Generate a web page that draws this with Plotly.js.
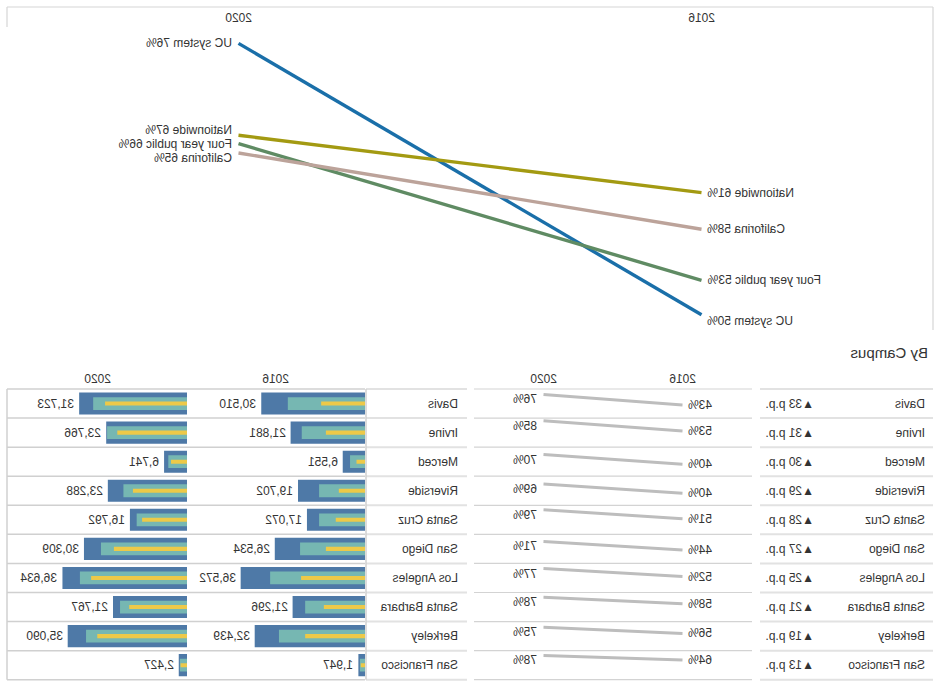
<!DOCTYPE html>
<html><head><meta charset="utf-8">
<script src="https://cdn.plot.ly/plotly-3.0.1.min.js"></script>
<style>
html,body{margin:0;padding:0;background:#fff;}
#chart{width:942px;height:688px;transform:scaleX(-1);transform-origin:center;}
</style></head>
<body><div id="chart"></div>
<script>
// ---- Overall slope chart data ----
const years = ['2016', '2020'];
const seriesNames = ['UC system', 'Nationwide', 'Four year public', 'Califorina'];
const rate2016 = [49.7, 61.4, 53.0, 57.9];
const rate2020 = [75.7, 66.9, 66.1, 65.2];

// ---- By campus data ----
const campuses = ['Davis', 'Irvine', 'Merced', 'Riverside', 'Santa Cruz', 'San Diego', 'Los Angeles', 'Santa Barbara', 'Berkeley', 'San Francisco'];
const campusRate2016 = [43, 53, 40, 40, 51, 44, 52, 58, 56, 64];
const campusRate2020 = [76, 85, 70, 69, 79, 71, 77, 78, 75, 78];
const changeLabels = ['▲33 p.p.', '▲31 p.p.', '▲30 p.p.', '▲29 p.p.', '▲28 p.p.', '▲27 p.p.', '▲25 p.p.', '▲21 p.p.', '▲19 p.p.', '▲13 p.p.'];
const total2016 = [30510, 21881, 6551, 19702, 17072, 26534, 36572, 21296, 32439, 1947];
const total2020 = [31723, 23766, 6741, 23288, 16792, 30309, 36634, 21767, 35090, 2427];
const mid2016 = [22700, 18600, 4400, 13500, 13500, 19100, 27900, 17600, 25300, 1500];
const mid2020 = [27600, 23500, 5500, 18700, 14800, 25300, 31500, 19700, 29700, 2100];
const inner2016 = [12900, 11500, 2500, 7700, 8600, 11500, 18800, 12100, 17600, 1250];
const inner2020 = [24100, 20500, 4700, 15900, 13200, 21500, 28200, 17000, 26400, 1900];

// ---- styles ----
const W = 942, H = 688;
const FONT = 'Liberation Sans, Arial, sans-serif';
const TXT = '#333333';
const lineColors = {'UC system': '#1a6fa9', 'Nationwide': '#a39a12', 'Four year public': '#5f8b63', 'Califorina': '#bca39a'};
const shift2016 = {'UC system': -6, 'Nationwide': 0, 'Four year public': 0, 'Califorina': 0};
const shift2020 = {'UC system': 0, 'Nationwide': 5, 'Four year public': 0, 'Califorina': -5};
const fx = (a, b) => [a / W, b / W];
const fy = (top, bottom) => [1 - bottom / H, 1 - top / H];
const px = v => v / W, py = v => 1 - v / H;
const yi = yr => years.indexOf(yr);
function ax(domain, range, extra) {
  return Object.assign({domain: domain, range: range, visible: false, fixedrange: true, showgrid: false, zeroline: false}, extra || {});
}

const layout = {
  width: W, height: H, margin: {l: 0, r: 0, t: 0, b: 0},
  paper_bgcolor: '#ffffff', plot_bgcolor: 'rgba(0,0,0,0)', showlegend: false,
  font: {family: FONT, size: 12, color: TXT},
  barmode: 'overlay',
  annotations: [], shapes: []
};
const data = [];
const A = o => layout.annotations.push(Object.assign({showarrow: false, font: {family: FONT, size: 12, color: TXT}}, o));
const L = (x0, y0, x1, y1, color, w) => layout.shapes.push({type: 'line', xref: 'paper', yref: 'paper', x0: px(x0), y0: py(y0), x1: px(x1), y1: py(y1), line: {color: color, width: w}});

// ---- top slope chart ----
layout.xaxis = ax(fx(9, 935), [-0.5, 1.5], {type: 'category', categoryarray: years});
layout.yaxis = ax(fy(28, 330), [48.245, 77.172]);
seriesNames.forEach((n, i) => {
  data.push({type: 'scatter', mode: 'lines', x: years, y: [rate2016[i], rate2020[i]], xaxis: 'x', yaxis: 'y',
    line: {color: lineColors[n], width: 3.4}, hoverinfo: 'skip'});
  A({x: yi('2016'), y: rate2016[i], xref: 'x', yref: 'y', xanchor: 'right', yanchor: 'middle', xshift: -4, yshift: shift2016[n], text: n + ' ' + Math.round(rate2016[i]) + '%'});
  A({x: yi('2020'), y: rate2020[i], xref: 'x', yref: 'y', xanchor: 'left', yanchor: 'middle', xshift: 4, yshift: shift2020[n], text: n + ' ' + Math.round(rate2020[i]) + '%'});
});
years.forEach(yr => A({x: yi(yr), xref: 'x', y: py(18), yref: 'paper', yanchor: 'middle', text: yr}));
L(9, 7, 935, 7, '#d6d6d6', 1.2);
L(9, 7, 9, 330, '#d6d6d6', 1.2);
L(935, 7, 935, 27, '#d6d6d6', 1.2);

// ---- By Campus ----
A({x: px(12), xref: 'paper', y: py(352), yref: 'paper', xanchor: 'left', yanchor: 'middle', text: 'By Campus', font: {family: FONT, size: 15, color: TXT}});

const ROW0 = 389, RH = 29.07;
campuses.forEach((c, r) => {
  const k = r + 2;
  const top = ROW0 + RH * r;
  layout['xaxis' + k] = ax(fx(190, 468), [-0.5, 1.5], {type: 'category', categoryarray: years});
  layout['yaxis' + k] = ax(fy(top, top + RH), [2.5, 93]);
  data.push({type: 'scatter', mode: 'lines', x: years, y: [campusRate2016[r], campusRate2020[r]], xaxis: 'x' + k, yaxis: 'y' + k,
    line: {color: '#bdbdbd', width: 3}, hoverinfo: 'skip'});
  A({x: yi('2016'), y: campusRate2016[r], xref: 'x' + k, yref: 'y' + k, xanchor: 'right', yanchor: 'middle', xshift: -4, text: campusRate2016[r] + '%'});
  A({x: yi('2020'), y: campusRate2020[r], xref: 'x' + k, yref: 'y' + k, xanchor: 'left', yanchor: 'middle', xshift: 4, yshift: -5, text: campusRate2020[r] + '%'});
});
years.forEach(yr => A({x: yi(yr), xref: 'x2', y: py(379), yref: 'paper', yanchor: 'middle', text: yr}));

// bullet columns
const catAxis = ax(fy(ROW0, ROW0 + RH * 10), [9.5, -0.5], {type: 'category', categoryarray: campuses});
layout.xaxis12 = ax(fx(577, 755), [0, 52350]);
layout.yaxis12 = Object.assign({}, catAxis);
layout.xaxis13 = ax(fx(755, 934), [0, 52650]);
layout.yaxis13 = Object.assign({}, catAxis);
[[total2016, mid2016, inner2016, '12'], [total2020, mid2020, inner2020, '13']].forEach(([tot, mid, inn, k]) => {
  data.push({type: 'bar', orientation: 'h', x: tot, y: campuses, xaxis: 'x' + k, yaxis: 'y' + k, width: 0.76, marker: {color: '#4e79a7'}, hoverinfo: 'skip'});
  data.push({type: 'bar', orientation: 'h', x: mid, y: campuses, xaxis: 'x' + k, yaxis: 'y' + k, width: 0.44, marker: {color: '#76b7b2'}, hoverinfo: 'skip'});
  data.push({type: 'bar', orientation: 'h', x: inn, y: campuses, xaxis: 'x' + k, yaxis: 'y' + k, width: 0.14, marker: {color: '#edc948'}, hoverinfo: 'skip'});
  campuses.forEach((c, r) => A({x: tot[r], y: c, xref: 'x' + k, yref: 'y' + k, xanchor: 'left', yanchor: 'middle', xshift: 3, text: tot[r].toLocaleString('en-US')}));
});
A({x: 0.5, xref: 'x12 domain', y: py(379), yref: 'paper', yanchor: 'middle', text: years[0]});
A({x: 0.5, xref: 'x13 domain', y: py(379), yref: 'paper', yanchor: 'middle', text: years[1]});

// campus name columns & change labels
campuses.forEach((c, r) => {
  A({x: px(15), xref: 'paper', y: c, yref: 'y12', xanchor: 'left', yanchor: 'middle', text: c});
  A({x: px(126), xref: 'paper', y: c, yref: 'y12', xanchor: 'left', yanchor: 'middle', text: changeLabels[r]});
  A({x: px(482), xref: 'paper', y: c, yref: 'y12', xanchor: 'left', yanchor: 'middle', text: c});
});

// grid lines
for (let i = 0; i <= 10; i++) {
  const y = ROW0 + RH * i;
  L(9, y, 182, y, '#e2e2e2', 2);
  L(190, y, 468, y, '#d3d3d3', 1.2);
  L(475, y, 576, y, '#e2e2e2', 2);
  L(577, y, 935, y, '#d0d0d0', 1.5);
}
L(576, ROW0, 576, ROW0 + RH * 10, '#d0d0d0', 1.5);
L(935, ROW0, 935, ROW0 + RH * 10, '#d0d0d0', 1.5);

Plotly.newPlot('chart', data, layout, {displayModeBar: false, staticPlot: true});
</script>
</body></html>
